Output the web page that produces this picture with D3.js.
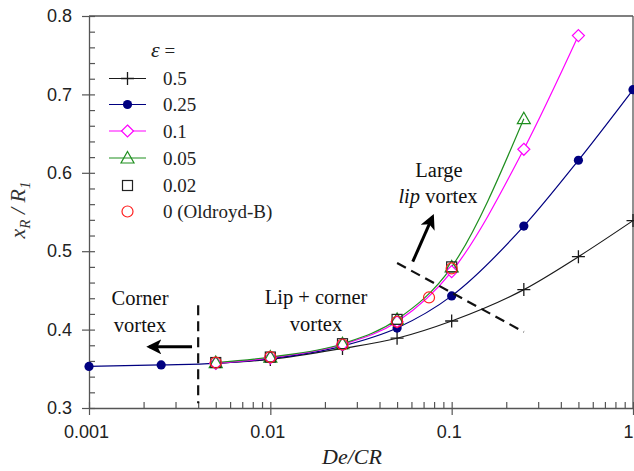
<!DOCTYPE html>
<html><head><meta charset="utf-8">
<script src="https://cdn.jsdelivr.net/npm/d3@7/dist/d3.min.js"></script>
<style>
html,body{margin:0;padding:0;background:#fff;}
svg{display:block;}
</style></head>
<body>
<svg id="chart" width="634" height="471"></svg>
<script>
// ---- data ----
const xTickLabels = ["0.001", "0.01", "0.1", "1"];
const yTickLabels = ["0.3", "0.4", "0.5", "0.6", "0.7", "0.8"];
const legendLabels = ["0.5", "0.25", "0.1", "0.05", "0.02", "0 (Oldroyd-B)"];

const x_e05 = [0.005, 0.01, 0.025, 0.05, 0.1, 0.25, 0.5, 1];
const y_e05 = [0.357, 0.362, 0.376, 0.389, 0.411, 0.451, 0.493, 0.539];

const x_e025 = [0.001, 0.0025, 0.005, 0.01, 0.025, 0.05, 0.1, 0.25, 0.5, 1];
const y_e025 = [0.353, 0.355, 0.357, 0.363, 0.379, 0.402, 0.443, 0.532, 0.616, 0.706];

const x_e01 = [0.005, 0.01, 0.025, 0.05, 0.1, 0.25, 0.5];
const y_e01 = [0.357, 0.364, 0.381, 0.410, 0.474, 0.630, 0.775];

const x_e005 = [0.005, 0.01, 0.025, 0.05, 0.1, 0.25];
const y_e005 = [0.358, 0.365, 0.382, 0.413, 0.480, 0.669];

const x_e002 = [0.005, 0.01, 0.025, 0.05, 0.1];
const y_e002 = [0.358, 0.365, 0.382, 0.413, 0.480];

const x_e0 = [0.005, 0.01, 0.025, 0.05, 0.075, 0.1];
const y_e0 = [0.358, 0.365, 0.381, 0.410, 0.441, 0.478];

// ---- setup ----
const svg = d3.select("#chart");
const L = 89, R = 633, T = 16, B = 408;
const x = d3.scaleLog().domain([0.001, 1]).range([L, R]);
const y = d3.scaleLinear().domain([0.3, 0.8]).range([B, T]);
const axisColor = "#555";
const tickFont = "'Liberation Sans', Arial, sans-serif";
const serif = "'Liberation Serif', 'Times New Roman', serif";

const zip = (xs, ys) => xs.map((v, i) => [v, ys[i]]);

const series = [
  {name: legendLabels[0], data: zip(x_e05, y_e05), color: "#1a1a1a", marker: "plus", line: true},
  {name: legendLabels[1], data: zip(x_e025, y_e025), color: "#000080", marker: "dot", line: true},
  {name: legendLabels[2], data: zip(x_e01, y_e01), color: "#ff00ff", marker: "diamond", line: true},
  {name: legendLabels[3], data: zip(x_e005, y_e005), color: "#1f8f1f", marker: "triangle", line: true},
  {name: legendLabels[4], data: zip(x_e002, y_e002), color: "#222", marker: "square", line: false},
  {name: legendLabels[5], data: zip(x_e0, y_e0), color: "#ff2020", marker: "circle", line: false}
];

// ---- axes ----
const yMajor = yTickLabels.map(Number);
const yMinor = d3.range(0.32, 0.8, 0.02).filter(v => yMajor.every(m => Math.abs(m - v) > 1e-6));
const xMajor = xTickLabels.map(Number);
const xMinor = [];
[0.001, 0.01, 0.1].forEach(d => { for (let k = 2; k <= 9; k++) xMinor.push(d * k); });

const yAxisG = svg.append("g").attr("transform", `translate(${L},0)`)
  .call(d3.axisLeft(y).tickValues(yMajor).tickFormat((d, i) => yTickLabels[i]).tickSizeInner(7).tickSizeOuter(0).tickPadding(10));
yAxisG.selectAll(".tick line").attr("x2", -7).attr("x1", 6);
yAxisG.select(".domain").attr("stroke", axisColor).attr("stroke-width", 1.3);
yAxisG.selectAll(".tick line").attr("stroke", axisColor).attr("stroke-width", 1.2);
yAxisG.selectAll("text").attr("font-family", tickFont).attr("font-size", 18).attr("fill", "#222");

const yMinorG = svg.append("g").attr("transform", `translate(${L},0)`)
  .call(d3.axisRight(y).tickValues(yMinor).tickFormat("").tickSizeInner(6).tickSizeOuter(0));
yMinorG.select(".domain").remove();
yMinorG.selectAll(".tick line").attr("stroke", axisColor).attr("stroke-width", 1.2);

const xAxisG = svg.append("g").attr("transform", `translate(0,${B})`)
  .call(d3.axisBottom(x).tickValues(xMajor).tickFormat((d, i) => xTickLabels[i]).tickSizeInner(7).tickSizeOuter(0).tickPadding(10));
xAxisG.selectAll(".tick line").attr("y1", -6).attr("y2", 7);
xAxisG.select(".domain").attr("stroke", axisColor).attr("stroke-width", 1.3);
xAxisG.selectAll(".tick line").attr("stroke", axisColor).attr("stroke-width", 1.2);
xAxisG.selectAll("text").attr("font-family", tickFont).attr("font-size", 18).attr("fill", "#222").attr("dx", -3);
// keep the last label inside the picture
xAxisG.selectAll(".tick").filter(d => d === 1).select("text").attr("text-anchor", "end").attr("dx", 0);

const xMinorG = svg.append("g").attr("transform", `translate(0,${B})`)
  .call(d3.axisTop(x).tickValues(xMinor).tickFormat("").tickSizeInner(6).tickSizeOuter(0));
xMinorG.select(".domain").remove();
xMinorG.selectAll(".tick line").attr("stroke", axisColor).attr("stroke-width", 1.2);

// frame top & right
svg.append("line").attr("x1", L).attr("x2", R).attr("y1", T).attr("y2", T).attr("stroke", axisColor).attr("stroke-width", 1.3);
svg.append("line").attr("x1", R).attr("x2", R).attr("y1", T).attr("y2", B).attr("stroke", axisColor).attr("stroke-width", 1.3);

// axis titles
const xt = svg.append("text").attr("x", 352).attr("y", 464).attr("text-anchor", "middle")
  .attr("font-family", serif).attr("font-style", "italic").attr("font-size", 22).attr("fill", "#222");
xt.text("De/CR");

const yt = svg.append("text").attr("transform", "translate(25,210) rotate(-90)").attr("text-anchor", "middle")
  .attr("font-family", serif).attr("font-style", "italic").attr("font-size", 22).attr("fill", "#333");
yt.append("tspan").text("x");
yt.append("tspan").attr("font-size", 15).attr("dy", 5).text("R");
yt.append("tspan").attr("dy", -5).text(" / R");
yt.append("tspan").attr("font-size", 15).attr("dy", 5).text("1");

// ---- markers ----
function drawMarker(g, type, color, cx, cy) {
  if (type === "plus") {
    g.append("path").attr("d", `M${cx-6.5},${cy}H${cx+6.5}M${cx},${cy-6.5}V${cy+6.5}`).attr("stroke", color).attr("stroke-width", 1.3).attr("fill", "none");
  } else if (type === "dot") {
    g.append("circle").attr("cx", cx).attr("cy", cy).attr("r", 4.6).attr("fill", color);
  } else if (type === "diamond") {
    g.append("path").attr("d", `M${cx},${cy-6}L${cx+6},${cy}L${cx},${cy+6}L${cx-6},${cy}Z`).attr("stroke", color).attr("stroke-width", 1.2).attr("fill", "#fff");
  } else if (type === "triangle") {
    g.append("path").attr("d", `M${cx},${cy-6.5}L${cx+6.5},${cy+5}L${cx-6.5},${cy+5}Z`).attr("stroke", color).attr("stroke-width", 1.2).attr("fill", "none");
  } else if (type === "square") {
    g.append("rect").attr("x", cx-5).attr("y", cy-5).attr("width", 10).attr("height", 10).attr("stroke", color).attr("stroke-width", 1.2).attr("fill", "none");
  } else if (type === "circle") {
    g.append("circle").attr("cx", cx).attr("cy", cy).attr("r", 5.5).attr("stroke", color).attr("stroke-width", 1.2).attr("fill", "none");
  }
}

const lineGen = d3.line().x(d => x(d[0])).y(d => y(d[1])).curve(d3.curveMonotoneX);
const plotG = svg.append("g");
series.forEach(s => {
  if (s.line) {
    plotG.append("path").attr("d", lineGen(s.data)).attr("fill", "none").attr("stroke", s.color).attr("stroke-width", 1.2);
  }
});
series.forEach(s => {
  const g = plotG.append("g");
  s.data.forEach(d => drawMarker(g, s.marker, s.color, x(d[0]), y(d[1])));
});

// ---- legend ----
const lg = svg.append("g");
const epsT = lg.append("text").attr("x", 151).attr("y", 57).attr("font-family", serif).attr("font-size", 19).attr("fill", "#222");
epsT.append("tspan").attr("font-style", "italic").attr("font-size", 22).text("ε");
epsT.append("tspan").text(" =");
const rowY = [78.5, 104.5, 131, 158, 185.5, 211.5];
series.forEach((s, i) => {
  const ry = rowY[i];
  if (s.line) lg.append("line").attr("x1", 109).attr("x2", 146).attr("y1", ry).attr("y2", ry).attr("stroke", s.color).attr("stroke-width", 1.2);
  drawMarker(lg, s.marker, s.color, 127.5, ry);
  lg.append("text").attr("x", 163).attr("y", ry + 6.5).attr("font-family", serif).attr("font-size", 19).attr("fill", "#222").text(s.name);
});

// ---- annotations ----
const ann = svg.append("g");
const annFont = 20.5;
function annText(tx, ty, parts) {
  const t = ann.append("text").attr("x", tx).attr("y", ty).attr("text-anchor", "middle")
    .attr("font-family", serif).attr("font-size", annFont).attr("fill", "#111");
  parts.forEach(p => t.append("tspan").attr("font-style", p[1] ? "italic" : "normal").text(p[0]));
}
// corner region
ann.append("line").attr("x1", x(0.004)).attr("x2", x(0.004)).attr("y1", y(0.431)).attr("y2", y(0.306))
  .attr("stroke", "#111").attr("stroke-width", 2.2).attr("stroke-dasharray", "10,6");
svg.append("defs").append("marker").attr("id", "ah").attr("viewBox", "0 0 10 10").attr("refX", 8).attr("refY", 5)
  .attr("markerWidth", 5).attr("markerHeight", 5).attr("orient", "auto")
  .append("path").attr("d", "M0,0L10,5L0,10L2.5,5Z").attr("fill", "#000");
ann.append("line").attr("x1", x(0.0037)).attr("y1", y(0.378)).attr("x2", x(0.00215)).attr("y2", y(0.378))
  .attr("stroke", "#000").attr("stroke-width", 3).attr("marker-end", "url(#ah)");
annText(140, 305, [["Corner", false]]);
annText(140, 332, [["vortex", false]]);
annText(316, 304, [["Lip + corner", false]]);
annText(316, 331, [["vortex", false]]);
// lip region
ann.append("line").attr("x1", x(0.05)).attr("y1", y(0.485)).attr("x2", x(0.25)).attr("y2", y(0.397))
  .attr("stroke", "#111").attr("stroke-width", 2.2).attr("stroke-dasharray", "10,6");
ann.append("line").attr("x1", x(0.061)).attr("y1", y(0.4866)).attr("x2", x(0.0785)).attr("y2", y(0.544))
  .attr("stroke", "#000").attr("stroke-width", 3).attr("marker-end", "url(#ah)");
annText(439, 177, [["Large", false]]);
const lipT = ann.append("text").attr("x", 438).attr("y", 203).attr("text-anchor", "middle")
  .attr("font-family", serif).attr("font-size", annFont).attr("fill", "#111");
lipT.append("tspan").attr("font-style", "italic").text("lip");
lipT.append("tspan").text("  vortex");
</script>
</body></html>
